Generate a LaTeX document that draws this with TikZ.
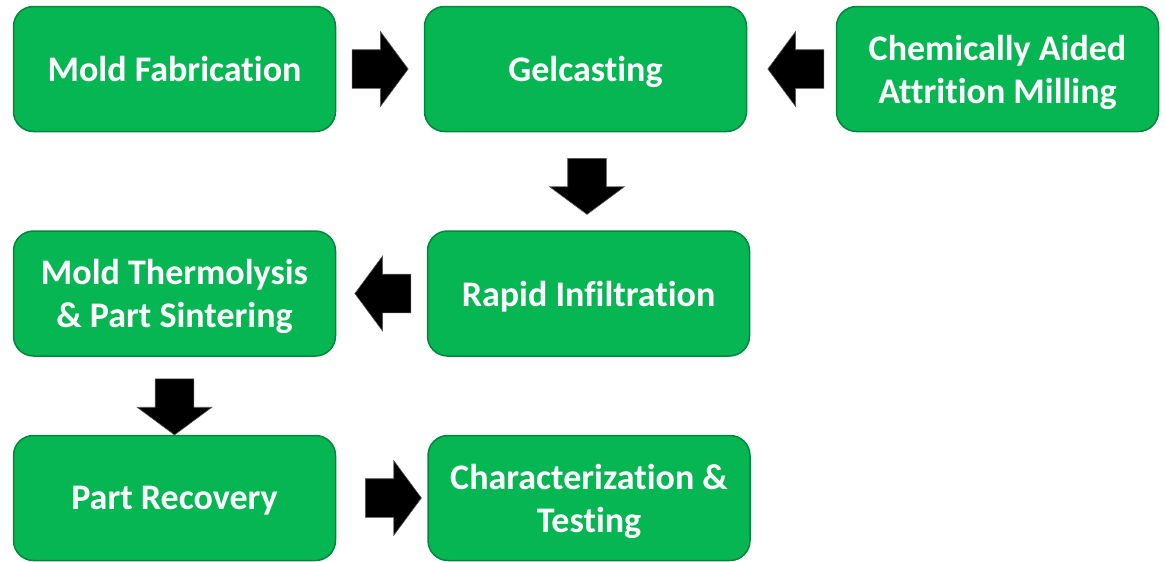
\documentclass[tikz,border=0pt]{standalone}
\usepackage{fontspec}
\setmainfont{Carlito}[Ligatures=NoCommon]
\usepackage{tikz}
\usetikzlibrary{shapes.arrows,calc}
\definecolor{stepgreen}{HTML}{06B653}
\definecolor{stepedge}{HTML}{00873D}
\tikzset{
  stepbox/.style={draw=stepedge, line width=1.5pt, fill=stepgreen, rounded corners=20pt,
    minimum width=322pt, minimum height=125pt, align=center, text=white, text depth=0pt,
    font=\fontsize{36}{43}\selectfont\bfseries},
  blockarrow/.style={single arrow, fill=black, draw=black!65, line width=0.6pt,
    inner xsep=0pt, inner ysep=19pt, minimum height=56pt,
    single arrow head extend=18pt, single arrow tip angle=107}
}
\begin{document}
\begin{tikzpicture}[x=1pt,y=-1pt]
\useasboundingbox (0,0) rectangle (1165,562);
\node (mold) [stepbox] at (174.5,69) {Mold Fabrication};
\node (gel) [stepbox] at (585.5,69) {Gelcasting};
\node (mill) [stepbox] at (997.5,69) {Chemically Aided\\Attrition Milling};
\node (rapid) [stepbox] at (588.5,293.5) {Rapid Infiltration};
\node (thermo) [stepbox] at (174.5,293.5) {Mold Thermolysis\\\& Part Sintering};
\node (recov) [stepbox] at (174.5,498) {Part Recovery};
\node (charact) [stepbox] at (589,498) {Characterization \&\\Testing};

\node (a1) [blockarrow, xshift=-7pt] at ($(mold.east)!0.5!(gel.west)$) {};
\node (a2) [blockarrow, rotate=180, xshift=-11.5pt] at ($(gel.east)!0.5!(mill.west)$) {};
\node (a3) [blockarrow, rotate=-90, xshift=-2pt] at ($(gel.south)!0.5!(rapid.north)$) {};
\node (a4) [blockarrow, rotate=180, xshift=-8.5pt] at ($(rapid.west)!0.5!(thermo.east)$) {};
\node (a5) [blockarrow, rotate=-90, xshift=4pt] at ($(thermo.south)!0.5!(recov.north)$) {};
\node (a6) [blockarrow, xshift=4.5pt] at ($(recov.east)!0.5!(charact.west)$) {};
\end{tikzpicture}
\end{document}
